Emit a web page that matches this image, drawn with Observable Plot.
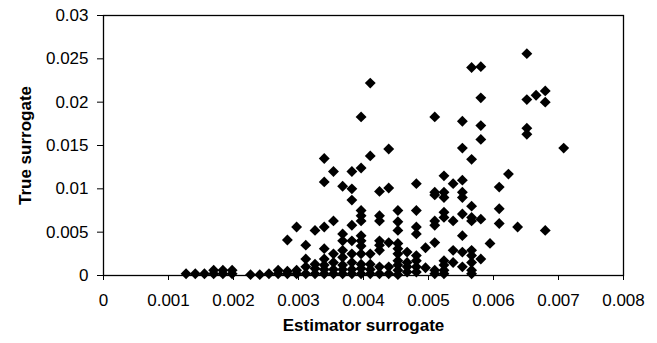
<!DOCTYPE html>
<html>
<head>
<meta charset="utf-8">
<script src="https://cdn.jsdelivr.net/npm/d3@7"></script>
<script src="https://cdn.jsdelivr.net/npm/@observablehq/plot@0.6"></script>
<style>
  html, body { margin: 0; padding: 0; background: #fff; }
  #chart { width: 657px; height: 343px; }
</style>
</head>
<body>
<div id="chart"></div>
<script>
// Estimator surrogate values (x), one per column of points
const estimatorLevels = [
  0.00127, 0.001412, 0.001553, 0.001695, 0.001837, 0.001979,
  0.002262, 0.002404, 0.002545, 0.002687, 0.002829, 0.002971,
  0.003112, 0.003254, 0.003396, 0.003538, 0.003679, 0.003821,
  0.003963, 0.004104, 0.004246, 0.004388, 0.004529, 0.004671,
  0.004813, 0.004954, 0.005096, 0.005238, 0.005379, 0.005521,
  0.005663, 0.005805, 0.005946, 0.006088, 0.00623, 0.006371,
  0.006513, 0.006655, 0.006796, 0.00708
];
// True surrogate values (y) observed at each estimator level
const trueValues = [
  [0.0002], [0.0002], [0.0002], [0.0002, 0.0006], [0.0002, 0.0006], [0.0002, 0.0006],
  [0.0001], [0.0001], [0.0002], [0.0002, 0.0006], [0.0002, 0.0005, 0.0041], [0.0002, 0.0006, 0.0056],
  [0.0002, 0.001, 0.0019, 0.0035],
  [0.0002, 0.0008, 0.0013, 0.0052],
  [0.0002, 0.0007, 0.0012, 0.0019, 0.0031, 0.0056, 0.0108, 0.0135],
  [0.0002, 0.0007, 0.0015, 0.0025, 0.0063, 0.012],
  [0.0002, 0.0007, 0.0012, 0.0021, 0.0029, 0.004, 0.0048, 0.0103],
  [0.0002, 0.0007, 0.0015, 0.0025, 0.004, 0.0058, 0.0087, 0.01, 0.012],
  [0.0002, 0.0008, 0.0013, 0.0025, 0.0034, 0.004, 0.0046, 0.0063, 0.0069, 0.0075, 0.0124, 0.0183],
  [0.0002, 0.0007, 0.0013, 0.0025, 0.0138, 0.0222],
  [0.0002, 0.001, 0.0029, 0.0035, 0.004, 0.0063, 0.0069, 0.0097],
  [0.0002, 0.001, 0.0038, 0.0101, 0.0146],
  [0.0001, 0.0006, 0.0012, 0.0017, 0.0025, 0.0031, 0.0037, 0.0052, 0.0062, 0.0075],
  [0.0004, 0.001, 0.0015, 0.0027],
  [0.0004, 0.001, 0.0017, 0.0023, 0.0048, 0.0056, 0.0075, 0.0106],
  [0.0009, 0.0032],
  [0.0002, 0.0006, 0.0038, 0.0058, 0.0063, 0.0093, 0.0096, 0.0183],
  [0.0002, 0.0006, 0.0012, 0.0017, 0.0067, 0.0073, 0.009, 0.0096, 0.0115],
  [0.0015, 0.0029, 0.0063, 0.0106],
  [0.001, 0.0027, 0.0046, 0.0071, 0.009, 0.0096, 0.011, 0.0147, 0.0178],
  [0.0002, 0.0006, 0.0015, 0.0023, 0.0029, 0.0063, 0.0067, 0.008, 0.0134, 0.024],
  [0.0019, 0.0065, 0.0157, 0.0173, 0.0205, 0.0241],
  [0.0037],
  [0.006, 0.0077, 0.0102],
  [0.0117],
  [0.0056],
  [0.0163, 0.017, 0.0203, 0.0256],
  [0.0208],
  [0.0052, 0.02, 0.0213],
  [0.0147]
];
const xTicks = [0, 0.001, 0.002, 0.003, 0.004, 0.005, 0.006, 0.007, 0.008];
const xTickLabels = ["0", "0.001", "0.002", "0.003", "0.004", "0.005", "0.006", "0.007", "0.008"];
const yTicks = [0, 0.005, 0.01, 0.015, 0.02, 0.025, 0.03];
const yTickLabels = ["0", "0.005", "0.01", "0.015", "0.02", "0.025", "0.03"];
const xTitle = "Estimator surrogate";
const yTitle = "True surrogate";

const points = estimatorLevels.flatMap((x, i) => trueValues[i].map(y => ({x, y})));

const chart = Plot.plot({
  width: 657,
  height: 343,
  marginLeft: 103,
  marginRight: 34,
  marginTop: 15,
  marginBottom: 68,
  style: {
    fontFamily: "'Liberation Sans', Arial, Helvetica, sans-serif",
    fontSize: "17px",
    background: "#fff",
    color: "#000",
    overflow: "visible"
  },
  x: {domain: [0, 0.008]},
  y: {domain: [0, 0.03]},
  marks: [
    Plot.frame({stroke: "#000", strokeWidth: 1.3}),
    Plot.axisX({
      ticks: xTicks,
      tickFormat: (d, i) => xTickLabels[i],
      tickSize: 5,
      tickPadding: 13,
      label: null,
      fontSize: 17
    }),
    Plot.axisY({
      ticks: yTicks,
      tickFormat: (d, i) => yTickLabels[i],
      tickSize: 6,
      tickPadding: 9,
      label: null,
      fontSize: 17
    }),
    Plot.dot(points, {
      x: "x", y: "y",
      symbol: "diamond2",
      r: 4.9,
      fill: "#000",
      stroke: null
    }),
    Plot.text([xTitle], {
      frameAnchor: "bottom",
      textAnchor: "middle",
      lineAnchor: "middle",
      dy: 50,
      fontWeight: "bold",
      fontSize: 17
    }),
    Plot.text([yTitle], {
      frameAnchor: "left",
      textAnchor: "middle",
      lineAnchor: "middle",
      rotate: -90,
      dx: -78,
      fontWeight: "bold",
      fontSize: 17
    })
  ]
});
document.getElementById("chart").appendChild(chart);
</script>
</body>
</html>
